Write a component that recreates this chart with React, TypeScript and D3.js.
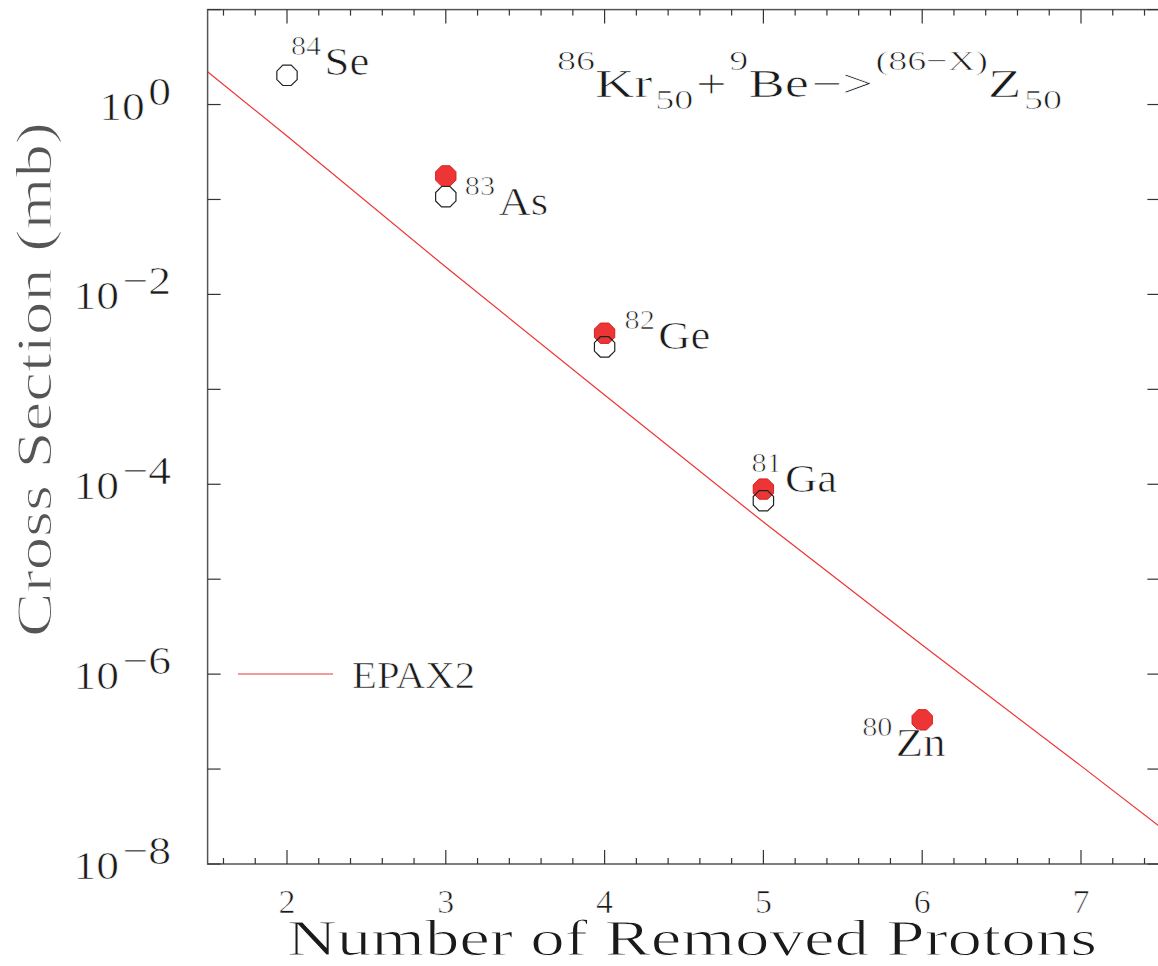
import { useMemo } from "react";
import * as d3 from "d3";

// Canvas size and plot frame
const WIDTH = 1158;
const HEIGHT = 966;
const MARGIN = { top: 9.6, left: 207.6, bottom: 102, right: -2.4 };
const FONT = "'Liberation Serif', 'DejaVu Serif', serif";
const RED = "#ee3535";
const MARKER_R = 11;

// Data
const measuredX = [3, 4, 5, 6];
const measuredY = [0.177, 3.9e-3, 8.9e-5, 3.3e-7];

const previousX = [2, 3, 4, 5];
const previousY = [2.03, 0.107, 2.8e-3, 6.7e-5];

const epaxX = [1.5, 2, 3, 4, 5, 6, 7, 7.5];
const epaxY = [2.21, 0.466, 0.0194, 8.7e-4, 4.0e-5, 2.03e-6, 1.08e-7, 2.45e-8];

// Isotope labels
const labelMass = ["84", "83", "82", "81", "80"];
const labelSymbol = ["Se", "As", "Ge", "Ga", "Zn"];
const labelX = [2, 3, 4, 5, 6];
const labelY = [2.03, 0.107, 2.8e-3, 6.7e-5, 3.3e-7];
const labelOffset: [number, number][] = [[4, 0], [19, 18], [20, 2], [-12, -9], [-60, 36]];

const xTicks = [2, 3, 4, 5, 6, 7];
const yTickExps = [0, -2, -4, -6, -8];

// thin lettering: a white stroke on top of the fill eats into the glyphs
const THIN = { fill: "#1a1a1a", stroke: "#fff", strokeWidth: 0.7 };

const octagon = (r: number) => {
  const pts: [number, number][] = d3.range(8).map((i) => {
    const a = Math.PI / 8 + (i * Math.PI) / 4;
    return [r * Math.cos(a), r * Math.sin(a)];
  });
  return d3.line().curve(d3.curveLinearClosed)(pts) || "";
};

export default function App() {
  const innerW = WIDTH - MARGIN.left - MARGIN.right;
  const innerH = HEIGHT - MARGIN.top - MARGIN.bottom;

  const xScale = useMemo(
    () => d3.scaleLinear().domain([1.5, 7.5]).range([MARGIN.left, MARGIN.left + innerW]),
    [innerW]
  );
  const yScale = useMemo(
    () => d3.scaleLog().domain([1e-8, 1e1]).range([MARGIN.top + innerH, MARGIN.top]),
    [innerH]
  );

  const epaxPath = d3
    .line<number>()
    .x((d) => xScale(d))
    .y((_, i) => yScale(epaxY[i]))(epaxX);

  const oct = octagon(MARKER_R);
  const x0 = MARGIN.left;
  const x1 = MARGIN.left + innerW;
  const y0 = MARGIN.top;
  const y1 = MARGIN.top + innerH;

  const minorX = d3.range(16, 75, 2).map((v) => v / 10).filter((v) => !Number.isInteger(v));
  const decadeTicks = d3.range(-8, 2).map((e) => Math.pow(10, e));

  return (
    <div style={{ position: "absolute", left: 0, top: 0 }}>
      <svg width={WIDTH} height={HEIGHT} style={{ display: "block", background: "white" }} fontFamily={FONT}>
        {/* frame */}
        <rect x={x0} y={y0} width={innerW} height={innerH} fill="none" stroke="#555" strokeWidth={1.5} />

        {/* x ticks, bottom and top */}
        {xTicks.map((v) => (
          <g key={"xt" + v}>
            <line x1={xScale(v)} x2={xScale(v)} y1={y1} y2={y1 - 14} stroke="#333" strokeWidth={1.2} />
            <line x1={xScale(v)} x2={xScale(v)} y1={y0} y2={y0 + 14} stroke="#333" strokeWidth={1.2} />
            <text x={xScale(v)} y={y1 + 49} fontSize={34} textAnchor="middle" {...THIN}>
              {v}
            </text>
          </g>
        ))}
        {minorX.map((v) => (
          <g key={"xm" + v}>
            <line x1={xScale(v)} x2={xScale(v)} y1={y1} y2={y1 - 6} stroke="#333" strokeWidth={1.2} />
            <line x1={xScale(v)} x2={xScale(v)} y1={y0} y2={y0 + 6} stroke="#333" strokeWidth={1.2} />
          </g>
        ))}

        {/* y ticks, left and right */}
        {decadeTicks.map((v) => (
          <g key={"yt" + v}>
            <line x1={x0} x2={x0 + 13} y1={yScale(v)} y2={yScale(v)} stroke="#333" strokeWidth={1.2} />
            <line x1={x1} x2={x1 - 13} y1={yScale(v)} y2={yScale(v)} stroke="#333" strokeWidth={1.2} />
          </g>
        ))}
        {yTickExps.map((e) => (
          <g key={"yl" + e} transform={`translate(171, ${yScale(Math.pow(10, e)) + 15}) scale(1.14, 1)`}>
            <text x={0} y={0} fontSize={40} textAnchor="end" {...THIN}>
              <tspan>10</tspan>
              <tspan dx={3} dy={-15}>{e === 0 ? "0" : "\u2212" + Math.abs(e)}</tspan>
            </text>
          </g>
        ))}

        {/* axis titles */}
        <text x={287} y={955} fontSize={50} textLength={810} lengthAdjust="spacingAndGlyphs" {...THIN} strokeWidth={1}>
          Number of Removed Protons
        </text>
        <text
          transform="translate(51, 637) rotate(-90)"
          fontSize={50}
          textLength={515}
          lengthAdjust="spacingAndGlyphs"
          {...THIN}
          strokeWidth={1}
          fill="#555"
        >
          Cross Section (mb)
        </text>

        {/* EPAX2 line */}
        <path d={epaxPath || ""} fill="none" stroke={RED} strokeWidth={1.2} />

        {/* measured (red) markers */}
        {measuredX.map((x, i) => (
          <path
            key={"m" + i}
            d={oct}
            transform={`translate(${xScale(x)},${yScale(measuredY[i])})`}
            fill={RED}
            stroke="#d42020"
            strokeWidth={1}
          />
        ))}
        {/* open markers */}
        {previousX.map((x, i) => (
          <path
            key={"p" + i}
            d={oct}
            transform={`translate(${xScale(x)},${yScale(previousY[i])})`}
            fill="none"
            stroke="#222"
            strokeWidth={1.2}
          />
        ))}

        {/* isotope labels */}
        {labelMass.map((m, i) => {
          const lx = xScale(labelX[i]) + labelOffset[i][0];
          const ly = yScale(labelY[i]) + labelOffset[i][1];
          return (
            <g key={"lab" + i} transform={`translate(${lx}, ${ly}) scale(1.12, 1)`}>
              <text x={0} y={0} {...THIN}>
                <tspan fontSize={27} dy={-20}>{m}</tspan>
                <tspan fontSize={40} dx={3} dy={20}>{labelSymbol[i]}</tspan>
              </text>
            </g>
          );
        })}

        {/* reaction title */}
        <g transform="translate(557, 97) scale(1.36, 1)">
          <text x={0} y={0} fontSize={40} {...THIN}>
            <tspan fontSize={28} dy={-27}>86</tspan>
            <tspan dy={27}>Kr</tspan>
            <tspan fontSize={28} dy={12} dx={2}>50</tspan>
            <tspan dy={-12} dx={2}>+</tspan>
            <tspan fontSize={28} dy={-27} dx={2}>9</tspan>
            <tspan dy={27}>Be</tspan>
            <tspan dx={2}>{"\u2212>"}</tspan>
            <tspan fontSize={28} dy={-27} dx={2}>{"(86\u2212X)"}</tspan>
            <tspan dy={27}>Z</tspan>
            <tspan fontSize={28} dy={12} dx={2}>50</tspan>
          </text>
        </g>

        {/* legend */}
        <line x1={238} x2={333} y1={674} y2={674} stroke={RED} strokeWidth={1.2} />
        <text x={352} y={688} fontSize={38} textLength={123} lengthAdjust="spacingAndGlyphs" {...THIN}>
          EPAX2
        </text>
      </svg>
    </div>
  );
}
